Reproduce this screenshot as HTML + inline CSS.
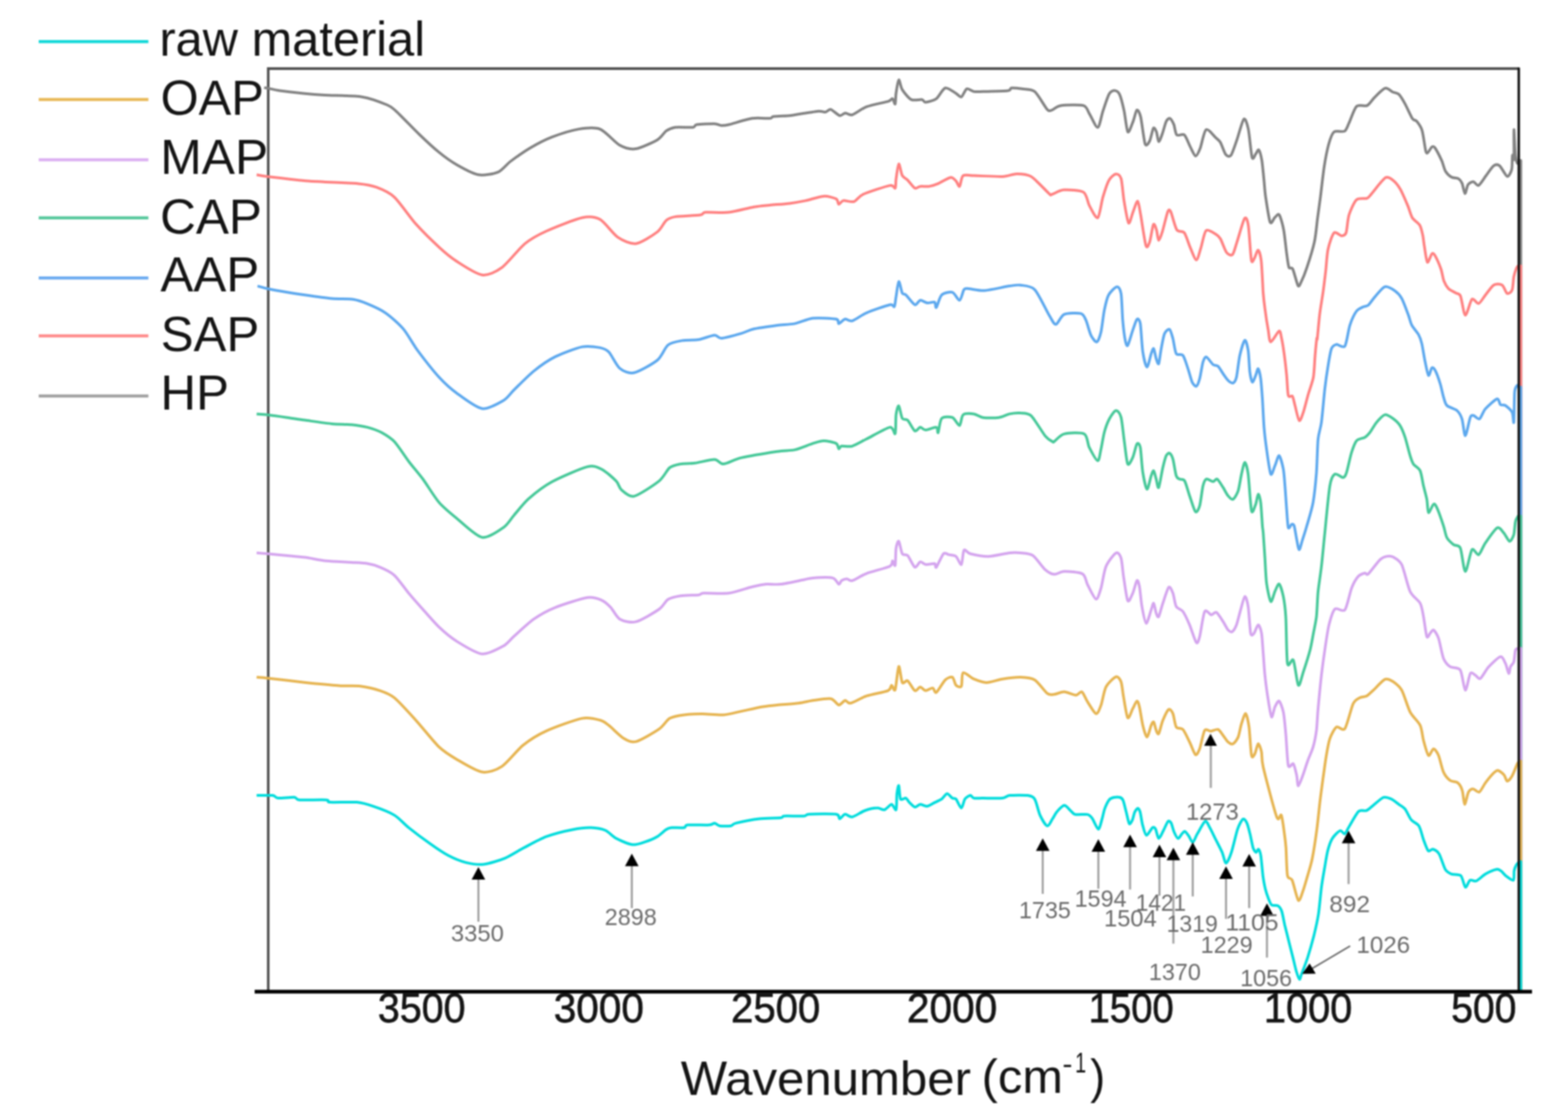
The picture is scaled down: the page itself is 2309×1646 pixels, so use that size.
<!DOCTYPE html>
<html><head><meta charset="utf-8"><title>FTIR spectra</title>
<style>html,body{margin:0;padding:0;background:#fff;} svg{display:block;filter:blur(0.8px);}</style>
</head><body>
<svg width="2309" height="1646" viewBox="0 0 2309 1646">
<rect width="2309" height="1646" fill="#fff"/>
<path d="M395 1460 V101 H2237" fill="none" stroke="#505050" stroke-width="3.8"/>
<path d="M389 129C389.4 129.1 389.3 128.9 392.4 129.5C395.5 130.1 404.9 132.4 412.1 133.5C419.3 134.5 437.6 136.5 446.4 137.4C455.2 138.3 466.4 139.3 478 140C489.6 140.7 521 140.7 533.3 142.7C545.6 144.6 563.5 151.7 570.2 154.5C576.8 157.3 577 158 583.3 163.7C589.7 169.5 609.2 189.9 617.6 198C626 206.1 639.2 218.4 646.6 224.3C653.9 230.3 665.2 238.4 672.9 242.8C680.6 247.2 696.4 255.8 704.5 257.3C712.6 258.7 727.2 255.9 733.5 253.3C739.8 250.7 745.6 242.2 751.9 237.5C758.2 232.8 772.8 222.5 780.9 217.7C789 213 803 205.6 812.5 201.9C822 198.3 842.5 191.7 852 190.1C861.5 188.5 875.5 186.9 883.6 190.1C891.7 193.2 905.6 209.9 912.6 213.8C919.6 217.7 928.9 220.1 936.3 219.1C943.7 218 961.9 209.4 967.9 205.9C973.9 202.4 977.6 195.2 981.1 192.7C984.6 190.3 989 188.2 994.2 187.5C999.5 186.8 1016.4 188 1020.6 187.5C1024.8 186.9 1021.6 184.2 1025.8 183.5C1030.1 182.8 1047.3 182 1052.2 182.2C1057.1 182.4 1059.9 184.6 1062.7 184.8C1065.5 185 1067.3 184.9 1073.3 183.5C1079.2 182.1 1099.4 175.5 1107.5 174.3C1115.6 173.1 1129.6 174.6 1133.8 174.3C1138 173.9 1135.2 172.2 1139.1 171.6C1143 171.1 1158.6 170.7 1162.8 170.3C1167 170 1165.1 169.9 1170.7 169C1176.3 168.1 1199 164.3 1204.9 163.7C1210.9 163.2 1213 165.4 1215.5 165.1C1217.9 164.7 1220.6 160.4 1223.4 161.1C1226.2 161.8 1233.7 169.6 1236.6 170.3C1239.4 171 1242 166.6 1244.5 166.4C1246.9 166.2 1250.8 170.2 1255 169C1259.2 167.8 1269 159.8 1276.1 157.2C1283.1 154.5 1302.6 150.8 1307.7 149.3C1312.8 147.7 1312.9 144.8 1314.3 145.3C1315.7 145.8 1317.5 154.3 1318.2 153.2C1318.9 152.2 1318.8 142.2 1319.5 137.4C1320.2 132.7 1322.2 118.4 1323.5 117.7C1324.7 117 1326.3 128.3 1328.7 132.1C1331.2 136 1338 144.7 1341.9 146.6C1345.8 148.6 1354.9 146.1 1357.7 146.6C1360.5 147.2 1360.2 150.8 1363 150.6C1365.8 150.4 1374.9 148.1 1378.8 145.3C1382.6 142.5 1388.1 130.6 1392 129.5C1395.8 128.5 1404.6 135.7 1407.8 137.4C1410.9 139.2 1413.6 143.6 1415.7 142.7C1417.8 141.8 1421.1 131.9 1423.6 130.8C1426 129.8 1430.9 134.2 1434.1 134.8C1437.3 135.3 1440.6 135 1447.3 134.8C1453.9 134.6 1478.5 134.2 1484.1 133.5C1489.8 132.8 1486.6 129.9 1489.4 129.5C1492.2 129.2 1500.6 130.1 1505.2 130.8C1509.8 131.5 1518.7 130.7 1523.6 134.8C1528.6 138.8 1538.7 157.5 1542.1 161.1C1545.4 164.8 1546.2 162.8 1548.9 162.1C1551.5 161.3 1556 156.3 1562.2 155.4C1568.4 154.5 1589.8 153.8 1595.4 155.4C1601 157 1601.5 163.3 1604.3 167.6C1607.1 171.9 1613.8 188.2 1616.5 187.6C1619.2 187 1622 169.7 1624.3 163.2C1626.5 156.7 1630.9 142.8 1633.1 138.8C1635.3 134.8 1638.8 133.2 1640.9 133.2C1643 133.2 1646.7 134.8 1648.6 138.8C1650.6 142.8 1653.7 155.8 1655.3 163.2C1656.9 170.6 1659.1 192.1 1660.8 194.2C1662.6 196.3 1666.8 183 1668.6 178.7C1670.4 174.4 1672.7 162.9 1674.1 162.1C1675.6 161.2 1678.1 165.4 1679.7 172C1681.3 178.7 1684.6 207.2 1686.3 212C1688.1 216.7 1691.4 210.6 1693 207.5C1694.6 204.4 1697.2 190.4 1698.5 188.7C1699.9 186.9 1701.9 191.6 1703 194.2C1704 196.9 1705.1 208.3 1706.3 208.6C1707.5 208.9 1710.4 200.4 1711.8 196.4C1713.3 192.4 1715.9 181.6 1717.4 178.7C1718.9 175.7 1721.4 173.7 1722.9 174.3C1724.4 174.8 1727.1 179.9 1728.5 183.1C1729.8 186.4 1730.8 196.6 1732.9 198.6C1735 200.7 1741.3 196.3 1744 198.6C1746.7 201 1750.6 212.2 1752.9 216.4C1755.1 220.5 1758.7 229.4 1760.6 229.7C1762.5 230 1765.2 223.8 1767.3 218.6C1769.3 213.4 1773 193 1776.1 190.9C1779.2 188.8 1787.7 200.6 1790.6 203.1C1793.4 205.6 1795.3 206.5 1797.2 209.7C1799.1 213 1802.9 225 1805 227.5C1807 230 1810.5 231.5 1812.7 228.6C1814.9 225.6 1819.1 212.4 1821.6 205.3C1824.1 198.2 1829.4 177.4 1831.6 175.4C1833.8 173.3 1836.6 182.2 1838.2 189.8C1839.9 197.3 1842.3 227 1843.8 231.9C1845.2 236.8 1848 227.8 1849.3 226.4C1850.6 224.9 1852.6 219.5 1853.7 220.8C1854.9 222.2 1857.1 230.1 1858.2 236.3C1859.2 242.5 1860.8 260.3 1861.5 267.4C1862.2 274.5 1862.5 281.6 1863.7 289.6C1864.9 297.5 1868.6 323.1 1870.4 327.3C1872.2 331.4 1875.3 322.1 1877 320.6C1878.8 319.1 1881.9 313.8 1883.7 316.2C1885.5 318.5 1888.9 330.7 1890.3 338.3C1891.8 346 1893.7 366.4 1894.8 373.8C1895.8 381.2 1896.9 390.8 1898.1 393.8C1899.3 396.7 1901.9 392.4 1903.6 396C1905.4 399.5 1909.8 417.7 1911.4 420.4C1913 423 1913.9 419.5 1915.7 415.9C1917.4 412.4 1921.9 401.8 1924.5 393.8C1927.2 385.8 1933.5 365.5 1935.6 356.1C1937.7 346.6 1938.9 331.7 1940 322.8C1941.2 313.9 1943.1 299.9 1944.5 289.6C1945.8 279.2 1948.4 255.6 1950 245.2C1951.6 234.9 1954.8 218.8 1956.7 212C1958.6 205.2 1961.3 196.7 1964.4 194.2C1967.5 191.7 1977 194.9 1980 193.1C1982.9 191.3 1984.2 185.8 1986.6 180.9C1989 176 1994.1 159.9 1997.7 156.5C2001.2 153.1 2009.7 157.2 2013.2 155.4C2016.8 153.6 2020.8 146.6 2024.3 143.2C2027.8 139.8 2036.3 130.9 2039.8 129.9C2043.4 128.9 2048.2 134.3 2050.9 135.5C2053.6 136.6 2057.4 136.6 2059.8 138.8C2062.1 141 2066 147.4 2068.6 152.1C2071.3 156.8 2077.4 170.7 2079.7 174.3C2082.1 177.8 2084.5 176.3 2086.4 178.7C2088.3 181.1 2092.4 186.1 2094.1 192C2095.9 197.9 2098.5 218.8 2099.7 223C2100.9 227.3 2101.8 225 2103 224.1C2104.2 223.3 2107.2 217.3 2108.6 216.4C2109.9 215.5 2111.1 214.8 2113 217.5C2114.9 220.2 2120.9 231.8 2123 236.3C2125 240.9 2126.6 248.6 2128.5 251.9C2130.4 255.1 2134.9 259.3 2137.4 260.7C2139.9 262.2 2145.3 261.8 2147.4 262.9C2149.4 264.1 2151.6 266.6 2152.9 269.6C2154.2 272.6 2156.2 284.8 2157.3 285.1C2158.5 285.4 2160.1 274.2 2161.8 271.8C2163.4 269.5 2167.5 267.2 2169.5 267.4C2171.6 267.5 2174.8 274.1 2177.3 272.9C2179.8 271.7 2185.4 262.4 2188.4 258.5C2191.3 254.7 2196.8 246 2199.5 244.1C2202.1 242.2 2205.7 242 2208.3 244.1C2211 246.2 2217.1 258.9 2219.4 259.6C2221.8 260.4 2225 253.8 2226.1 249.6C2227.1 245.5 2226.7 230.7 2227.2 228.6C2227.6 226.5 2229.1 239.2 2229.4 234.1C2229.7 229.1 2229.1 191.5 2229.4 190.9C2229.7 190.3 2230.9 223 2231.6 229.7C2232.4 236.3 2234 239.9 2234.9 240.8C2235.9 241.7 2238.4 236.9 2238.9 236.3 L2239.5 236.3 L2239.5 1460" fill="none" stroke="#828282" stroke-width="4.0" stroke-linejoin="round" stroke-linecap="butt"/>
<path d="M377.9 257.3C380.1 257.6 384 258.7 394.2 259.9C404.4 261.1 436.4 265.1 454.3 266.5C472.1 267.9 514.7 269.2 528 270.4C541.4 271.6 547.3 273.1 554.4 275.7C561.4 278.3 573 283 580.7 290.2C588.4 297.4 603.5 319.8 612.3 329.7C621.1 339.5 638.5 356.5 646.6 363.9C654.6 371.3 664.5 379.5 672.9 385C681.3 390.4 701 403.5 709.8 404.7C718.5 406 730.3 400.4 738.7 394.2C747.2 388.1 764.2 365.9 773 358.7C781.8 351.5 793.4 345.3 804.6 340.2C815.8 335.1 846.7 322.7 857.3 320.5C867.8 318.2 876.6 319.2 883.6 323.1C890.6 327 902.9 344.7 909.9 349.4C917 354.2 928.6 359.7 936.3 358.7C944 357.6 961.9 346.1 967.9 341.5C973.9 337 977.6 327.4 981.1 324.4C984.6 321.4 987.6 320.2 994.2 319.1C1000.9 318.1 1025.1 317.4 1031.1 316.5C1037.1 315.6 1033.4 313.1 1039 312.6C1044.6 312 1063.8 313.6 1073.3 312.6C1082.7 311.5 1102.1 306.1 1110.1 304.7C1118.2 303.3 1126.8 302.7 1133.8 302C1140.9 301.3 1155.8 300.3 1162.8 299.4C1169.8 298.5 1179.8 296.8 1186.5 295.4C1193.2 294 1206.9 289.2 1212.9 288.9C1218.8 288.5 1228.3 291.2 1231.3 292.8C1234.3 294.4 1233.8 300.4 1235.2 300.7C1236.6 301.1 1238.8 296 1241.8 295.4C1244.8 294.9 1253.8 298 1257.6 296.8C1261.5 295.5 1263.8 289.4 1270.8 286.2C1277.8 283.1 1304 274.3 1310.3 273.1C1316.6 271.8 1317 278.2 1318.2 277C1319.4 275.8 1318.8 268.6 1319.5 263.8C1320.2 259.1 1322.2 242.1 1323.5 241.4C1324.7 240.7 1327 255.4 1328.7 258.6C1330.5 261.7 1334.2 262.7 1336.6 265.2C1339.1 267.6 1344.7 275.8 1347.2 277C1349.6 278.2 1352.3 274.7 1355.1 274.4C1357.9 274 1364.7 274.9 1368.2 274.4C1371.8 273.8 1377.2 272.2 1381.4 270.4C1385.6 268.7 1396.3 261.7 1399.9 261.2C1403.4 260.7 1406 264.7 1407.8 266.5C1409.5 268.2 1411.6 275.4 1413 274.4C1414.4 273.3 1415.5 260.7 1418.3 258.6C1421.1 256.5 1426.4 258.4 1434.1 258.6C1441.8 258.7 1467.8 260.2 1476.2 259.9C1484.7 259.5 1491.7 255.9 1497.3 255.9C1502.9 255.9 1512.1 256 1518.4 259.9C1524.7 263.7 1540.7 281.4 1544.7 284.9C1548.8 288.4 1546 286.9 1548.9 286.2C1551.8 285.5 1560.4 280 1566.6 279.6C1572.8 279.1 1590.4 279.8 1595.4 282.9C1600.5 286 1601.5 297.8 1604.3 302.9C1607.1 307.9 1613.8 322.4 1616.5 320.6C1619.2 318.8 1622 296.9 1624.3 289.6C1626.5 282.2 1630.6 269.6 1633.1 265.2C1635.6 260.7 1640.7 256.6 1643.1 256.3C1645.5 256 1649.2 257.6 1650.9 262.9C1652.5 268.3 1653.8 287.5 1655.3 296.2C1656.8 304.9 1660.2 326.3 1662 328.4C1663.7 330.4 1666.8 316 1668.6 311.7C1670.4 307.4 1673.8 295.6 1675.3 296.2C1676.7 296.8 1678.1 307.4 1679.7 316.2C1681.3 324.9 1685.7 356.3 1687.5 361.6C1689.2 366.9 1691.5 360.2 1693 356.1C1694.5 351.9 1697.2 332.9 1698.5 330.6C1699.9 328.2 1701.9 335.2 1703 338.3C1704 341.4 1705.1 353.6 1706.3 353.9C1707.5 354.2 1710.1 346.2 1711.8 340.6C1713.6 334.9 1718 315.6 1719.6 311.7C1721.2 307.9 1722.3 308.2 1724 311.7C1725.8 315.3 1730.2 334.2 1732.9 338.3C1735.6 342.5 1741.3 339.2 1744 342.8C1746.7 346.3 1750.5 359.6 1752.9 364.9C1755.2 370.3 1759.7 382.7 1761.7 382.7C1763.8 382.7 1766.5 370.7 1768.4 364.9C1770.3 359.2 1773.2 342.1 1776.1 339.4C1779.1 336.8 1787.7 343.4 1790.6 345C1793.4 346.6 1795.1 348.1 1797.2 351.6C1799.3 355.2 1803.7 368.5 1806.1 371.6C1808.4 374.7 1812.9 377 1814.9 374.9C1817 372.9 1819.2 363.2 1821.6 356.1C1824 349 1830.5 325 1832.7 321.7C1834.9 318.5 1836.9 323.6 1838.2 331.7C1839.6 339.8 1841.5 376.2 1842.7 382.7C1843.8 389.2 1845.8 382.4 1847.1 380.5C1848.4 378.5 1851.3 368 1852.6 368.3C1854 368.6 1856.2 376.3 1857.1 382.7C1858 389 1858.9 409.4 1859.3 415.9C1859.7 422.5 1859.7 426.9 1860.2 432C1860.6 437.1 1861.7 447 1862.7 454.2C1863.6 461.4 1866.4 479.6 1867.6 486.2C1868.7 492.8 1869.1 503.3 1871.3 503.4C1873.4 503.6 1881.5 488.1 1883.6 487.4C1885.7 486.8 1886.3 494.1 1887.3 498.5C1888.3 503 1890 513.5 1891 520.7C1892 527.9 1893.9 544.5 1894.7 552.7C1895.5 560.9 1896 578.2 1897.1 582.3C1898.3 586.4 1902 581.5 1903.3 583.5C1904.6 585.5 1905.7 592.3 1907 597C1908.3 601.8 1911.5 617.9 1913.2 619.2C1914.8 620.5 1917.5 612.2 1919.3 606.9C1921.1 601.6 1924.7 586.7 1926.7 579.8C1928.7 572.9 1932.8 562.7 1934.1 555.2C1935.4 547.6 1935.9 530.7 1936.6 523.2C1937.2 515.6 1938.6 501.8 1939 498.5C1939.4 495.2 1939.2 503.4 1939.8 498.5C1940.4 493.6 1942.3 470.8 1943.5 461.6C1944.6 452.4 1947.3 437.8 1948.4 429.6C1949.6 421.3 1951.1 408.3 1952.1 400C1953.1 391.7 1953.9 374.8 1955.6 367.2C1957.2 359.5 1961.8 345.4 1964.4 342.8C1967.1 340.1 1973.2 347.2 1975.5 347.2C1977.9 347.2 1980.7 346.9 1982.2 342.8C1983.6 338.6 1984.5 322.7 1986.6 316.2C1988.7 309.7 1994.1 297.2 1997.7 294C2001.2 290.7 2010.3 293 2013.2 291.8C2016.2 290.6 2016.3 289.1 2019.9 285.1C2023.4 281.1 2035.7 264.5 2039.8 261.8C2044 259.2 2048 262.9 2050.9 265.2C2053.9 267.4 2059 273.4 2062 278.5C2064.9 283.5 2070.7 297.2 2073.1 302.9C2075.4 308.5 2077.4 316.8 2079.7 320.6C2082.1 324.4 2088.7 328.1 2090.8 331.7C2092.9 335.2 2094.4 343.1 2095.3 347.2C2096.1 351.3 2096.6 357.6 2097.5 362.7C2098.4 367.9 2100.4 384.5 2101.9 386C2103.4 387.5 2107.1 375.1 2108.6 373.8C2110 372.5 2111.2 373.1 2113 376C2114.8 379 2120.1 391 2121.9 396C2123.6 401 2124.8 409.9 2126.3 413.7C2127.8 417.6 2130.6 422.4 2132.9 424.8C2135.3 427.2 2141.7 430 2144 431.5C2146.4 432.9 2148.9 431.6 2150.7 435.9C2152.5 440.2 2155.5 463.4 2157.8 464C2160 464.7 2165 442.9 2167.6 440.6C2170.2 438.3 2174.8 447.6 2177.5 446.8C2180.1 446 2184.4 438.1 2187.3 434.5C2190.3 430.9 2196.4 421.7 2199.6 419.7C2202.9 417.7 2209.3 418.1 2212 419.7C2214.6 421.3 2217.4 431 2219.3 432C2221.3 433 2225.4 430.4 2226.7 427.1C2228 423.8 2228.4 411.7 2229.2 407.4C2230 403.1 2232.1 397.2 2232.9 395.1C2233.7 392.9 2235 391.9 2235.4 391.4 L2239.5 391.4 L2239.5 1460" fill="none" stroke="#ff8080" stroke-width="4.0" stroke-linejoin="round" stroke-linecap="butt"/>
<path d="M379.2 421.1C381.2 421.6 388.4 423.8 394.2 425C400 426.3 415.4 429.1 422.7 430.3C430 431.5 440.2 433 449 434.2C457.8 435.5 479 438.6 488.5 439.5C498 440.4 513.1 439.8 520.1 440.8C527.2 441.9 534.9 444.8 541.2 447.4C547.5 450 560.5 455.7 567.5 460.6C574.6 465.5 587.6 476.9 593.9 484.3C600.2 491.7 607.9 506.4 614.9 515.9C622 525.4 638.8 547 646.6 555.4C654.3 563.8 664.5 573 672.9 579.1C681.3 585.2 700.6 600.1 709.8 601.5C718.9 602.9 735.1 593.3 741.4 589.6C747.7 586 751.2 579.6 757.2 573.8C763.1 568 778.1 552.7 786.2 546.2C794.2 539.7 808.3 529.8 817.8 525.1C827.2 520.4 848.5 512.4 857.3 510.6C866 508.9 878.3 510.9 883.6 511.9C888.9 513 892.9 514.5 896.8 518.5C900.6 522.6 907.7 538.2 912.6 542.2C917.5 546.3 926.3 550.4 933.6 548.8C941 547.2 961.2 535.8 967.9 530.4C974.6 524.9 978.8 511.9 983.7 508C988.6 504.1 998.8 502.5 1004.8 501.4C1010.7 500.4 1022.2 501.1 1028.5 500.1C1034.8 499 1047.6 493.8 1052.2 493.5C1056.8 493.2 1057.5 498.3 1062.7 498C1068 497.6 1085.4 492.7 1091.7 490.9C1098 489 1103.1 485.9 1110.1 484.3C1117.2 482.7 1136.3 480.1 1144.4 479C1152.4 478 1163.7 477.8 1170.7 476.4C1177.7 475 1189 469.4 1197 468.5C1205.1 467.6 1226.2 468.7 1231.3 469.8C1236.4 470.9 1233.5 476.4 1235.2 476.4C1237 476.4 1241.8 470.3 1244.5 469.8C1247.1 469.3 1250.8 473.7 1255 472.4C1259.2 471.2 1268.7 463.7 1276.1 460.6C1283.4 457.4 1304.9 450 1310.3 448.7C1315.7 447.5 1315.7 452.9 1316.9 451.4C1318.1 449.8 1318.6 441.8 1319.5 436.9C1320.4 432 1322.2 415.2 1323.5 414.5C1324.7 413.8 1327.3 429 1328.7 431.6C1330.1 434.2 1331.6 432 1334 434.2C1336.5 436.5 1344.4 447.7 1347.2 448.7C1350 449.8 1352.6 442.5 1355.1 442.1C1357.5 441.8 1362.8 445.7 1365.6 446.1C1368.4 446.4 1374.4 443.9 1376.2 444.8C1377.9 445.7 1377.4 454.1 1378.8 452.7C1380.2 451.3 1383.5 437.2 1386.7 434.2C1389.8 431.3 1399 429.2 1402.5 430.3C1406 431.3 1410.7 442.7 1413 442.1C1415.3 441.6 1417.9 428.6 1419.6 426.3C1421.4 424.1 1422.2 424.8 1426.2 425C1430.2 425.2 1441.8 428.2 1449.9 427.7C1458 427.1 1479.7 422.1 1486.8 421.1C1493.8 420 1497.7 419.1 1502.6 419.8C1507.5 420.5 1518 420.4 1523.6 426.3C1529.3 432.2 1540.8 457.2 1544.9 464C1549.1 470.9 1551.8 477.8 1554.8 477.6C1557.7 477.4 1562.2 464.9 1567.1 462.8C1572 460.7 1587.5 460.4 1591.7 461.6C1596 462.7 1597.1 467.2 1599.1 471.4C1601.1 475.7 1604.4 489.3 1606.5 493.6C1608.6 497.9 1613.2 504.1 1615.1 503.4C1617.1 502.8 1619.8 494.9 1621.3 488.7C1622.8 482.4 1624.7 463.9 1626.2 456.7C1627.7 449.4 1629.9 439.1 1632.4 434.5C1634.8 429.9 1642.2 422.5 1644.7 422.2C1647.1 421.8 1649.7 425.5 1650.8 432C1652 438.6 1652.5 462.2 1653.3 471.4C1654.1 480.6 1656 496.1 1657 501C1658 505.9 1659.2 510.3 1660.7 508.4C1662.2 506.4 1666.3 491.3 1668.1 486.2C1669.9 481.1 1672.8 471.5 1674.2 470.2C1675.7 468.9 1678 470 1679.2 476.4C1680.3 482.8 1681.5 509.7 1682.9 518.2C1684.2 526.8 1687.4 540.1 1689 540.4C1690.7 540.7 1693.9 524.3 1695.2 520.7C1696.5 517.1 1697.9 512.3 1698.9 513.3C1699.9 514.3 1701.6 525.1 1702.6 528.1C1703.5 531 1705.3 537.4 1706.3 535.5C1707.2 533.5 1708.8 519.2 1710 513.3C1711.1 507.4 1713.2 494.9 1714.9 491.1C1716.5 487.4 1720.6 484 1722.3 485C1723.9 486 1725.9 493.8 1727.2 498.5C1728.5 503.3 1730.1 517.4 1732.1 520.7C1734.1 524 1739.7 520.2 1742 523.2C1744.3 526.1 1747.6 537.6 1749.4 542.9C1751.2 548.1 1753.9 559.1 1755.5 562.6C1757.2 566 1760.2 569.4 1761.7 568.7C1763.2 568.1 1765.3 562.4 1766.6 557.6C1767.9 552.9 1770.2 537.3 1771.5 533C1772.8 528.7 1774.5 525.1 1776.5 525.6C1778.4 526.1 1784 534.9 1786.3 536.7C1788.6 538.5 1791.7 537.4 1793.7 539.2C1795.7 541 1799.1 547.5 1801.1 550.2C1803.1 553 1806.5 558.3 1808.5 560.1C1810.4 561.9 1814.2 564.4 1815.9 563.8C1817.5 563.1 1819.5 560.6 1820.8 555.2C1822.1 549.8 1824.1 530.4 1825.7 523.2C1827.4 515.9 1831.5 502 1833.1 501C1834.7 500 1837 509.5 1838 515.8C1839 522 1839.7 541.5 1840.5 547.8C1841.3 554 1843 561.9 1844.2 562.6C1845.3 563.2 1848 555.3 1849.1 552.7C1850.3 550.1 1851.8 542.2 1852.8 542.9C1853.8 543.5 1855.7 551.7 1856.5 557.6C1857.3 563.5 1858.3 577.7 1859 587.2C1859.6 596.7 1860.6 619.2 1861.4 629.1C1862.2 638.9 1863.8 651.9 1865.1 661.1C1866.4 670.3 1869.6 694.7 1871.3 698C1872.9 701.3 1875.8 689.3 1877.4 685.7C1879.1 682.1 1882 670.3 1883.6 670.9C1885.2 671.6 1888.6 684.7 1889.8 690.6C1890.9 696.6 1891.6 707.4 1892.2 715.3C1892.9 723.2 1894 741.5 1894.7 749.8C1895.3 758 1896.2 773.9 1897.1 776.8C1898.1 779.8 1900.9 772.2 1902.1 771.9C1903.2 771.6 1904.8 771.4 1905.8 774.4C1906.7 777.3 1908.5 789.4 1909.5 794.1C1910.4 798.7 1912 809.2 1913.2 809.3C1914.3 809.3 1916.6 799.1 1918.1 794.5C1919.6 789.9 1922.2 782.1 1924.2 774.8C1926.3 767.5 1931.7 750.5 1933.6 739.9C1935.5 729.3 1937.6 708 1938.6 695.6C1939.5 683.1 1940 656.2 1941 646.3C1942 636.5 1944.6 631.5 1945.9 621.7C1947.3 611.8 1949.6 583.6 1950.9 572.4C1952.2 561.2 1954.5 545.8 1955.8 537.9C1957.1 530 1959.1 517.4 1960.7 513.3C1962.4 509.2 1965.5 507.6 1968.1 507.1C1970.7 506.7 1977.8 513.4 1980.4 509.6C1983.1 505.8 1985.5 485.7 1987.8 478.8C1990.1 471.9 1995 461.5 1997.7 457.9C2000.3 454.3 2005.2 452.9 2007.5 451.7C2009.8 450.6 2012.6 451.2 2014.9 449.3C2017.2 447.3 2021.5 440.6 2024.8 436.9C2028 433.3 2035.6 423.3 2039.5 422.2C2043.5 421 2051 426 2054.3 428.3C2057.6 430.6 2061.5 434.6 2064.2 439.4C2066.8 444.2 2072.1 458.8 2074 464C2076 469.3 2077 475 2079 478.8C2080.9 482.6 2086.8 488.8 2088.8 492.4C2090.8 496 2092.4 500.5 2093.7 505.9C2095 511.3 2097.3 526.8 2098.7 533C2100 539.2 2102.3 551.6 2103.6 552.7C2104.9 553.9 2107.2 542.6 2108.5 541.6C2109.8 540.6 2111.8 542.2 2113.4 545.3C2115.1 548.4 2119.2 559.8 2120.8 565C2122.5 570.3 2124.4 580.5 2125.7 584.7C2127.1 589 2128 594.4 2130.7 597C2133.3 599.7 2142.5 601.8 2145.5 604.4C2148.4 607.1 2151.2 611.8 2152.8 616.7C2154.5 621.7 2156.1 641.7 2157.8 641.4C2159.4 641.1 2163.5 618.2 2165.2 614.3C2166.8 610.3 2168.3 611.5 2170.1 611.8C2171.9 612.2 2176.4 618.1 2178.7 616.7C2181 615.4 2183.9 605.9 2187.3 602C2190.8 598 2201.6 588 2204.6 587.2C2207.5 586.4 2207.9 594.5 2209.5 595.8C2211.1 597.1 2214.6 595.6 2216.9 597C2219.2 598.5 2225.1 603.6 2226.7 606.9C2228.4 610.2 2228.7 625.6 2229.2 621.7C2229.7 617.7 2229.8 584.6 2230.4 577.3C2231.1 570.1 2233.3 568.5 2234.1 567.5C2234.9 566.5 2236.3 569.6 2236.6 570 L2239.5 570 L2239.5 1460" fill="none" stroke="#5ca8ee" stroke-width="4.0" stroke-linejoin="round" stroke-linecap="butt"/>
<path d="M377.9 609.4C380.1 609.6 388.3 610 394.2 610.7C400.2 611.4 415.4 613.6 422.7 614.7C430 615.7 440.2 617.4 449 618.6C457.8 619.8 479.4 623 488.5 623.9C497.7 624.8 510.5 624.5 517.5 625.2C524.5 625.9 535.2 627.6 541.2 629.1C547.2 630.7 557 634.2 562.3 637C567.5 639.9 575.4 644.6 580.7 650.2C586 655.8 596.2 671.8 601.8 679.2C607.4 686.6 616.9 697.5 622.9 705.5C628.8 713.6 639.9 732 646.6 739.8C653.2 747.5 664.5 756.6 672.9 763.5C681.3 770.3 700.6 789.4 709.8 791.1C718.9 792.9 735.1 781 741.4 776.6C747.7 772.3 752.3 763.8 757.2 758.2C762.1 752.6 770.9 741 778.2 734.5C785.6 728 800.9 715.8 812.5 709.5C824.1 703.2 855.3 689.5 865.2 687.1C875 684.6 880.6 688.2 886.2 691C891.9 693.9 903.4 704.1 907.3 708.2C911.2 712.2 911.7 718.3 915.2 721.3C918.7 724.3 926.3 732.3 933.6 730.6C941 728.8 963.5 713.8 970.5 708.2C977.6 702.5 982.1 691.7 986.3 688.4C990.6 685.1 997.2 684 1002.1 683.1C1007.1 682.3 1016.5 682.7 1023.2 681.8C1029.9 680.9 1046.6 676.4 1052.2 676.6C1057.8 676.7 1060.1 683.5 1065.4 683.1C1070.6 682.8 1081.2 676.4 1091.7 673.9C1102.2 671.5 1133.8 666.3 1144.4 664.7C1154.9 663.1 1163.7 663.7 1170.7 662.1C1177.7 660.5 1191.4 654.6 1197 652.9C1202.7 651.1 1208.3 648.9 1212.9 648.9C1217.4 648.9 1228.3 651.3 1231.3 652.9C1234.3 654.4 1234.2 660.2 1235.2 660.8C1236.3 661.3 1236.6 657.3 1239.2 656.8C1241.8 656.3 1250.1 658.2 1255 656.8C1259.9 655.4 1268.7 650 1276.1 646.3C1283.4 642.6 1304.7 630.2 1310.3 629.1C1315.9 628.1 1317 640.8 1318.2 638.4C1319.4 635.9 1318.8 616.2 1319.5 610.7C1320.2 605.3 1322.2 596.8 1323.5 597.5C1324.7 598.2 1327 613.2 1328.7 616C1330.5 618.8 1334.2 616.2 1336.6 618.6C1339.1 621.1 1344.7 633 1347.2 634.4C1349.6 635.8 1353 629.3 1355.1 629.1C1357.2 629 1359.8 633.1 1363 633.1C1366.1 633.1 1376.3 628.6 1378.8 629.1C1381.2 629.7 1380.4 638.8 1381.4 637C1382.5 635.3 1383.9 619 1386.7 616C1389.5 613 1399 613.3 1402.5 614.7C1406 616.1 1410.9 627 1413 626.5C1415.1 626 1415.5 613 1418.3 610.7C1421.1 608.4 1430.2 608.9 1434.1 609.4C1438 609.9 1442.3 614 1447.3 614.7C1452.2 615.4 1465.7 615.4 1471 614.7C1476.2 614 1482.6 610.3 1486.8 609.4C1491 608.5 1498.4 607.7 1502.6 608.1C1506.8 608.4 1513.5 607.5 1518.4 612C1523.3 616.6 1535.2 637.2 1539.5 642.3C1543.7 647.4 1548.3 649.2 1550 650.2C1551.7 651.2 1550 651.5 1552.3 650C1554.6 648.5 1561.2 640.4 1567.1 638.9C1573 637.4 1591.7 636.3 1596.7 638.9C1601.6 641.5 1601.4 653.4 1604 658.6C1606.7 663.9 1614.1 678 1616.4 678.3C1618.7 678.7 1620 666.7 1621.3 661.1C1622.6 655.5 1624.6 642.4 1626.2 636.5C1627.8 630.5 1631.3 621 1633.6 616.7C1635.9 612.5 1641.1 604.8 1643.4 604.4C1645.7 604.1 1649.2 608 1650.8 614.3C1652.5 620.5 1654.4 642 1655.8 651.2C1657.1 660.4 1659 680.3 1660.7 683.3C1662.3 686.2 1666.3 677.3 1668.1 673.4C1669.9 669.5 1672.8 655.7 1674.2 653.7C1675.7 651.7 1678 653 1679.2 658.6C1680.3 664.2 1681.5 687.4 1682.9 695.6C1684.2 703.8 1687.4 719.5 1689 720.2C1690.7 720.9 1693.9 704.1 1695.2 700.5C1696.5 696.9 1697.9 692.4 1698.9 693.1C1699.9 693.8 1701.6 702.1 1702.6 705.4C1703.5 708.7 1704.9 720 1706.3 717.7C1707.6 715.4 1710.9 694.4 1712.4 688.2C1713.9 681.9 1716 673.7 1717.3 670.9C1718.7 668.1 1721 666.6 1722.3 667.2C1723.6 667.9 1725.9 671.4 1727.2 675.9C1728.5 680.3 1730.8 696.6 1732.1 700.5C1733.4 704.4 1735.4 704.4 1737 705.4C1738.7 706.4 1742.5 704.6 1744.4 707.9C1746.4 711.2 1749.7 724 1751.8 730C1754 736.1 1758.5 751.5 1760.4 753.4C1762.4 755.4 1765.1 749.9 1766.6 744.8C1768.1 739.7 1770.2 720.5 1771.5 715.3C1772.8 710 1774.5 706.2 1776.5 705.4C1778.4 704.6 1784.2 709.1 1786.3 709.1C1788.4 709.1 1790.5 704.3 1792.5 705.4C1794.4 706.6 1798.9 714.4 1801.1 717.7C1803.2 721 1806.5 727.8 1808.5 730C1810.4 732.3 1813.9 736 1815.9 735C1817.8 734 1821.6 727.6 1823.3 722.7C1824.9 717.7 1826.9 703.6 1828.2 698C1829.5 692.4 1831.8 680.8 1833.1 680.8C1834.4 680.8 1836.7 688.5 1838 698C1839.3 707.6 1841.5 746.3 1843 752.2C1844.4 758.1 1847.8 745.6 1849.1 742.4C1850.4 739.1 1851.8 727.9 1852.8 727.6C1853.8 727.3 1855.7 733.7 1856.5 739.9C1857.3 746.1 1858.5 768.4 1859 774.4C1859.5 780.3 1859.7 778.3 1860.2 784.6C1860.7 790.9 1862 811.7 1862.7 821.6C1863.3 831.4 1864 850 1865.1 858.5C1866.3 867.1 1869.6 884 1871.3 885.6C1872.9 887.3 1875.8 874.3 1877.4 870.8C1879.1 867.4 1882 858.8 1883.6 859.8C1885.2 860.7 1888.4 871.8 1889.8 878.2C1891.1 884.6 1892.6 894.6 1893.4 907.8C1894.3 920.9 1894.4 968.2 1895.9 976.7C1897.4 985.3 1902.4 967.6 1904.5 971.8C1906.7 976.1 1910 1006.5 1911.9 1008.8C1913.9 1011.1 1917 996 1919.3 989.1C1921.6 982.2 1927.2 964.6 1929.2 957C1931.1 949.5 1932.8 939 1934.1 932.4C1935.3 925.8 1937.6 916 1938.6 907.8C1939.5 899.6 1940 880.7 1941 870.8C1942 861 1944.6 845.4 1945.9 833.9C1947.3 822.4 1949.2 800.4 1950.9 784.6C1952.5 768.8 1956.3 726.8 1958.3 715.3C1960.2 703.7 1963 699.7 1965.7 698C1968.3 696.4 1975.7 703.3 1978 703C1980.3 702.6 1981.2 700.5 1982.9 695.6C1984.5 690.6 1988.3 672.2 1990.3 666C1992.3 659.8 1995 651.7 1997.7 648.8C2000.3 645.8 2007.4 645.5 2010 643.8C2012.6 642.2 2015.1 639.4 2017.4 636.5C2019.7 633.5 2024.3 625.1 2027.2 621.7C2030.2 618.2 2036.3 611.2 2039.5 610.6C2042.8 609.9 2048.9 614.6 2051.9 616.7C2054.8 618.9 2059.4 623 2061.7 626.6C2064 630.2 2067.1 637.9 2069.1 643.8C2071.1 649.8 2074.8 665.7 2076.5 670.9C2078.1 676.2 2079.4 680.3 2081.4 683.3C2083.4 686.2 2089.3 688.8 2091.3 693.1C2093.2 697.4 2094.9 709.7 2096.2 715.3C2097.5 720.9 2100.1 729.7 2101.1 735C2102.1 740.2 2102.3 753.7 2103.6 754.7C2104.9 755.7 2109.3 743.3 2111 742.4C2112.6 741.4 2113.9 743 2115.9 747.3C2117.9 751.6 2123.8 768.5 2125.7 774.4C2127.7 780.3 2128.7 788 2130.7 791.6C2132.6 795.3 2137.9 799.8 2140.5 801.9C2143.2 803.9 2148.1 801.5 2150.4 806.8C2152.7 812.1 2155.5 841 2157.8 841.3C2160.1 841.6 2165 812.5 2167.6 809.3C2170.2 806 2174.8 818 2177.5 816.7C2180.1 815.3 2183.7 804.7 2187.3 799.4C2190.9 794.2 2201 779.2 2204.6 777.2C2208.2 775.3 2212 782 2214.4 784.6C2216.9 787.3 2221.1 796.6 2223 796.9C2225 797.3 2228 791 2229.2 787.1C2230.3 783.2 2230.8 771 2231.7 767.4C2232.5 763.8 2234.9 761 2235.4 760 L2239.5 760 L2239.5 1460" fill="none" stroke="#45c898" stroke-width="4.0" stroke-linejoin="round" stroke-linecap="butt"/>
<path d="M377.9 814C380.1 814.2 388.3 814.8 394.2 815.3C400.2 815.8 415.4 817.2 422.7 817.9C430 818.6 441.3 819.5 449 820.6C456.7 821.6 471.5 824.9 480.6 825.8C489.8 826.8 509.4 827.4 517.5 828C525.6 828.5 535.6 828.8 541.2 829.8C546.8 830.7 554.4 832.8 559.6 835.1C564.9 837.3 575.1 841.8 580.7 846.9C586.3 852 596.5 866.9 601.8 873.3C607 879.6 614.2 887.7 620.2 894.3C626.2 901 639.5 916.6 646.6 923.3C653.6 930 664.5 939.1 672.9 944.4C681.3 949.6 700.6 961.9 709.8 962.8C718.9 963.7 735.1 954.5 741.4 951C747.7 947.4 751.2 941.7 757.2 936.5C763.1 931.2 778.1 917.1 786.2 911.4C794.2 905.8 807.2 898.5 817.8 894.3C828.3 890.1 856 881.2 865.2 879.8C874.3 878.4 881.7 881.9 886.2 883.8C890.8 885.7 895.9 890.6 899.4 894.3C902.9 898 907.7 908.6 912.6 911.4C917.5 914.3 928.6 917.3 936.3 915.4C944 913.5 964.2 901.4 970.5 897C976.9 892.6 979.5 885.1 983.7 882.5C987.9 879.8 996.2 878.1 1002.1 877.2C1008.1 876.3 1023.9 876.4 1028.5 875.9C1033 875.4 1030.4 873.6 1036.4 873.3C1042.4 872.9 1063.8 874.5 1073.3 873.3C1082.7 872 1100.1 865.8 1107.5 864C1114.9 862.3 1122.9 860.6 1128.6 860.1C1134.2 859.6 1142.3 861 1149.6 860.1C1157 859.2 1177.6 854.7 1183.9 853.5C1190.2 852.3 1191.4 851.2 1197 850.9C1202.7 850.5 1220.9 849.6 1226 850.9C1231.1 852.1 1233.5 859.6 1235.2 860.1C1237 860.6 1237.6 855.9 1239.2 854.8C1240.8 853.8 1245 852.2 1247.1 852.2C1249.2 852.2 1251.1 855.9 1255 854.8C1258.9 853.8 1268.7 847.1 1276.1 844.3C1283.4 841.5 1305.2 836.2 1310.3 833.7C1315.4 831.3 1313.2 826 1314.3 825.8C1315.3 825.7 1317.5 834.9 1318.2 832.4C1318.9 830 1318.8 812.2 1319.5 807.4C1320.2 802.7 1322.2 795.8 1323.5 796.9C1324.7 797.9 1327 812.5 1328.7 815.3C1330.5 818.1 1334.2 815.3 1336.6 817.9C1339.1 820.6 1344.7 833.8 1347.2 835.1C1349.6 836.3 1353 827.7 1355.1 827.2C1357.2 826.6 1360.2 830.8 1363 831.1C1365.8 831.5 1374 829.3 1376.2 829.8C1378.3 830.3 1377 837 1378.8 835.1C1380.5 833.1 1386.9 817.8 1389.3 815.3C1391.8 812.9 1394.8 816.1 1397.2 816.6C1399.7 817.2 1405.3 817.3 1407.8 819.3C1410.2 821.2 1414.1 832.3 1415.7 831.1C1417.2 829.9 1417.9 812.2 1419.6 810C1421.4 807.9 1424.1 814.1 1428.8 815.3C1433.6 816.5 1447.4 819.4 1455.2 819.3C1462.9 819.1 1480.5 814.7 1486.8 814C1493.1 813.3 1498 813.5 1502.6 814C1507.1 814.5 1516.1 814.6 1521 817.9C1525.9 821.3 1535.2 835.3 1539.5 839C1543.7 842.7 1548.9 845.3 1552.6 845.6C1556.3 845.9 1561.6 841.4 1567.1 841.3C1572.6 841.2 1589.6 842.3 1594.2 845C1598.8 847.6 1598.9 856.1 1601.6 861C1604.2 865.9 1611.3 881.3 1613.9 881.9C1616.5 882.6 1619.3 872.3 1621.3 865.9C1623.3 859.5 1625.7 840.8 1628.7 833.9C1631.6 827 1640.5 815.8 1643.4 814.2C1646.4 812.5 1649.4 817 1650.8 821.6C1652.3 826.2 1653.2 840.3 1654.5 848.7C1655.8 857 1658.9 881.1 1660.7 884.4C1662.5 887.7 1666.3 877.2 1668.1 873.3C1669.9 869.4 1672.9 856.1 1674.2 854.8C1675.6 853.5 1676.9 858.4 1677.9 863.4C1678.9 868.5 1680.3 885.8 1681.6 893C1682.9 900.2 1686 917 1687.8 917.6C1689.6 918.3 1693.7 901.9 1695.2 897.9C1696.7 894 1697.9 887.4 1698.9 888.1C1699.9 888.7 1701.6 900.2 1702.6 902.9C1703.5 905.5 1704.9 909.8 1706.3 907.8C1707.6 905.8 1710.4 893.8 1712.4 888.1C1714.4 882.3 1719.1 866.7 1721 864.7C1723 862.7 1725.7 869.5 1727.2 873.3C1728.7 877.1 1730.1 889.4 1732.1 893C1734.1 896.6 1739.3 896.8 1742 900.4C1744.6 904 1749.2 914 1751.8 920.1C1754.4 926.2 1759.7 943.7 1761.7 946C1763.6 948.3 1765 943.4 1766.6 937.3C1768.2 931.3 1771.7 904.7 1774 900.4C1776.3 896.1 1781.5 905.2 1783.8 905.3C1786.1 905.5 1788.9 900.3 1791.2 901.6C1793.5 902.9 1798.8 911.7 1801.1 915.2C1803.4 918.6 1806.7 925.5 1808.5 927.5C1810.3 929.5 1813 930.9 1814.6 930C1816.3 929 1819.1 924.4 1820.8 920.1C1822.4 915.8 1825.3 903.5 1826.9 897.9C1828.6 892.3 1831.6 878.9 1833.1 878.2C1834.6 877.6 1836.9 885.8 1838 893C1839.2 900.2 1840.6 927.2 1841.7 932.4C1842.9 937.7 1845.2 934.1 1846.7 932.4C1848.1 930.8 1851.3 920.1 1852.8 920.1C1854.3 920.1 1856.7 926.8 1857.7 932.4C1858.7 938 1859.5 953.8 1860.2 962C1860.9 970.2 1861.7 984.8 1862.7 994C1863.6 1003.2 1866.3 1022.7 1867.6 1030.9C1868.9 1039.1 1871.2 1054.3 1872.5 1055.6C1873.8 1056.9 1876 1043.9 1877.4 1040.8C1878.9 1037.7 1882 1031.2 1883.6 1032.2C1885.2 1033.2 1888.4 1041.8 1889.8 1048.2C1891.1 1054.6 1892.5 1069.7 1893.4 1080.2C1894.4 1090.7 1895.7 1121.1 1897.1 1127C1898.6 1132.9 1902.9 1122.6 1904.5 1124.5C1906.2 1126.5 1908.5 1137.5 1909.5 1141.8C1910.4 1146.1 1910.7 1157.1 1911.9 1156.9C1913.1 1156.8 1916.9 1145.9 1918.7 1141C1920.5 1136.1 1923.6 1126 1925.6 1120.5C1927.5 1115 1931.9 1105.9 1933.6 1099.9C1935.4 1093.9 1937.6 1082.8 1938.6 1075.3C1939.5 1067.7 1940 1054.1 1941 1043.3C1942 1032.4 1944.6 1005.5 1945.9 994C1947.3 982.5 1949.4 966.9 1950.9 957C1952.3 947.2 1955.1 928.1 1957 920.1C1959 912.1 1962.5 899.7 1965.7 896.7C1968.8 893.7 1977.1 902 1980.4 897.9C1983.7 893.8 1987.7 872.5 1990.3 865.9C1992.9 859.3 1997.5 851.6 2000.1 848.7C2002.8 845.7 2008 844.2 2010 843.7C2012 843.3 2012 847.6 2014.9 845C2017.9 842.3 2028.5 827.5 2032.2 824C2035.8 820.6 2039.4 819.6 2042 819.1C2044.6 818.6 2048.9 818.7 2051.9 820.3C2054.8 822 2060.9 824.7 2064.2 831.4C2067.5 838.2 2072.9 863.3 2076.5 870.8C2080.1 878.4 2088.6 883.2 2091.3 888.1C2093.9 893 2094.9 901.2 2096.2 907.8C2097.5 914.4 2099.8 934.1 2101.1 937.3C2102.4 940.6 2104.7 933.7 2106 932.4C2107.4 931.1 2109.3 926.5 2111 927.5C2112.6 928.5 2116.4 934.2 2118.4 939.8C2120.3 945.4 2123.4 963.8 2125.7 969.4C2128 974.9 2132.3 979.4 2135.6 981.7C2138.9 984 2147.4 982 2150.4 986.6C2153.3 991.2 2155.8 1015.5 2157.8 1016.2C2159.7 1016.8 2163.2 994.5 2165.2 991.5C2167.1 988.6 2170.6 993 2172.5 994C2174.5 995 2177.3 1000.6 2179.9 998.9C2182.6 997.3 2188.3 985.9 2192.3 981.7C2196.2 977.4 2206.2 967.6 2209.5 966.9C2212.8 966.2 2215.2 973.5 2216.9 976.7C2218.5 980 2220.8 990.9 2221.8 991.5C2222.8 992.2 2223.3 984 2224.3 981.7C2225.3 979.4 2228.2 977.6 2229.2 974.3C2230.2 971 2230.7 959.7 2231.7 957C2232.6 954.4 2235.9 954.9 2236.6 954.6 L2239.5 954.6 L2239.5 1460" fill="none" stroke="#d4a4ee" stroke-width="4.0" stroke-linejoin="round" stroke-linecap="butt"/>
<path d="M377.9 997C380.1 997.2 387.6 997.7 394.2 998.4C400.9 999.1 418.9 1001.3 427.9 1002.3C437 1003.4 452.4 1005.3 462.2 1006.3C472 1007.2 492.6 1009.2 501.7 1009.7C510.8 1010.2 522.9 1009.3 530.7 1010.2C538.4 1011.2 553 1014.5 559.6 1016.8C566.3 1019.1 573.7 1021.5 580.7 1027.3C587.7 1033.1 603.5 1050.6 612.3 1060.3C621.1 1069.9 638.5 1092 646.6 1099.8C654.6 1107.5 664.5 1113.3 672.9 1118.2C681.3 1123.1 701 1135.2 709.8 1136.6C718.5 1138 730.7 1134 738.7 1128.7C746.8 1123.5 761.6 1104.2 770.3 1097.1C779.1 1090.1 793 1081.3 804.6 1076.1C816.2 1070.8 846.7 1059.7 857.3 1057.6C867.8 1055.5 878.3 1058.9 883.6 1060.3C888.9 1061.7 892.2 1064.7 896.8 1068.2C901.3 1071.7 912.6 1083.4 917.8 1086.6C923.1 1089.8 929.3 1093.6 936.3 1091.9C943.3 1090.1 963.9 1078 970.5 1073.4C977.2 1068.9 981.4 1060.4 986.3 1057.6C991.3 1054.8 1001.1 1053.2 1007.4 1052.4C1013.7 1051.5 1026 1051 1033.7 1051C1041.5 1051 1057.6 1052.9 1065.4 1052.4C1073.1 1051.8 1084 1048.7 1091.7 1047.1C1099.4 1045.5 1116.3 1041.7 1123.3 1040.5C1130.3 1039.3 1137.3 1038.6 1144.4 1037.9C1151.4 1037.2 1169 1036.1 1176 1035.2C1183 1034.4 1190.7 1032.2 1197 1031.3C1203.4 1030.4 1218.3 1027.8 1223.4 1028.7C1228.5 1029.5 1232.4 1037.5 1235.2 1037.9C1238 1038.2 1242.2 1031.6 1244.5 1031.3C1246.7 1030.9 1248.1 1036.1 1252.4 1035.2C1256.6 1034.4 1268.7 1027.2 1276.1 1024.7C1283.4 1022.2 1302.8 1018.9 1307.7 1016.8C1312.6 1014.7 1311.5 1009.1 1312.9 1008.9C1314.3 1008.7 1316.8 1019.2 1318.2 1015.5C1319.6 1011.8 1322.1 982.6 1323.5 981.2C1324.9 979.8 1327 1002.1 1328.7 1004.9C1330.5 1007.8 1334.2 1000.7 1336.6 1002.3C1339.1 1003.9 1344.7 1015.6 1347.2 1016.8C1349.6 1018 1353 1011.5 1355.1 1011.5C1357.2 1011.5 1360.5 1016.6 1363 1016.8C1365.4 1017 1371.4 1012.5 1373.5 1012.9C1375.6 1013.2 1376.3 1021 1378.8 1019.4C1381.2 1017.9 1388.8 1004 1392 1001C1395.1 998 1400.4 996 1402.5 997C1404.6 998.1 1406 1007.1 1407.8 1008.9C1409.5 1010.7 1414.3 1012.7 1415.7 1010.2C1417.1 1007.8 1415.8 991.9 1418.3 990.5C1420.8 989.1 1429.5 997.8 1434.1 999.7C1438.7 1001.6 1446.9 1004.9 1452.5 1004.9C1458.2 1004.9 1469.6 1000.7 1476.2 999.7C1482.9 998.6 1496.3 996.9 1502.6 997C1508.9 997.2 1518.4 997.8 1523.6 1001C1528.9 1004.2 1538.3 1017.9 1542.1 1020.8C1545.9 1023.6 1549 1022.6 1552.3 1022.3C1555.6 1022 1562.8 1018.5 1567.1 1018.6C1571.4 1018.8 1580.9 1023.5 1584.3 1023.5C1587.8 1023.5 1590.7 1017.3 1593 1018.6C1595.3 1019.9 1598.8 1029.1 1601.6 1033.4C1604.4 1037.7 1611.3 1050 1613.9 1050.6C1616.5 1051.3 1619.3 1043.6 1621.3 1038.3C1623.3 1033.1 1625.7 1016.8 1628.7 1011.2C1631.6 1005.6 1640.5 997.4 1643.4 996.5C1646.4 995.5 1649.4 999.9 1650.8 1003.8C1652.3 1007.8 1653.2 1018.9 1654.5 1026C1655.8 1033.1 1658.9 1054.5 1660.7 1056.8C1662.5 1059.1 1666.3 1046.5 1668.1 1043.3C1669.9 1040 1672.9 1032.5 1674.2 1032.2C1675.6 1031.8 1676.8 1036 1677.9 1040.8C1679.1 1045.6 1681.4 1062 1682.9 1067.9C1684.3 1073.8 1687.4 1085.1 1689 1085.1C1690.7 1085.1 1693.9 1070.8 1695.2 1067.9C1696.5 1064.9 1697.9 1062 1698.9 1063C1699.9 1063.9 1701.6 1073 1702.6 1075.3C1703.5 1077.6 1704.9 1082.2 1706.3 1080.2C1707.6 1078.2 1710.4 1065.3 1712.4 1060.5C1714.4 1055.7 1719.1 1045.8 1721 1044.5C1723 1043.2 1725.7 1047.2 1727.2 1050.6C1728.7 1054.1 1730.1 1067.2 1732.1 1070.3C1734.1 1073.5 1739.3 1071.1 1742 1074C1744.6 1077 1749.4 1087.6 1751.8 1092.5C1754.3 1097.4 1758.5 1109.7 1760.4 1111C1762.4 1112.3 1764.8 1107.1 1766.6 1102.4C1768.4 1097.6 1771.9 1078.7 1774 1075.3C1776.1 1071.8 1780 1076.7 1782.6 1076.5C1785.2 1076.3 1791.2 1073.2 1793.7 1074C1796.2 1074.9 1799.1 1080.2 1801.1 1082.7C1803.1 1085.1 1806.5 1090.9 1808.5 1092.5C1810.4 1094.2 1813.9 1096 1815.9 1095C1817.8 1094 1821.6 1089.1 1823.3 1085.1C1824.9 1081.2 1826.7 1070 1828.2 1065.4C1829.7 1060.8 1832.9 1050 1834.3 1050.6C1835.8 1051.3 1838.1 1062.1 1839.3 1070.3C1840.4 1078.6 1841.8 1107 1843 1112.2C1844.1 1117.5 1846.6 1112.1 1847.9 1109.8C1849.2 1107.5 1851.5 1095.3 1852.8 1095C1854.1 1094.6 1856.7 1102.7 1857.7 1107.3C1858.7 1111.9 1857.2 1116.8 1860.2 1129.5C1863.2 1142.2 1876.4 1193.1 1880 1202.5C1883.6 1211.9 1885.3 1196.9 1886.8 1200.2C1888.4 1203.6 1890.5 1221.2 1891.4 1227.6C1892.3 1233.9 1893.1 1239.9 1893.7 1248.1C1894.3 1256.3 1894.7 1282.7 1895.9 1289.1C1897.2 1295.4 1900.7 1291 1902.8 1295.9C1904.9 1300.8 1909.8 1323.4 1911.9 1325.5C1914 1327.6 1916.9 1316.7 1918.7 1311.8C1920.5 1307 1923.7 1295.4 1925.6 1289.1C1927.4 1282.7 1930.6 1273.1 1932.4 1264C1934.2 1254.9 1937.7 1232 1939.2 1220.7C1940.7 1209.5 1942.6 1189.7 1943.8 1179.7C1945 1169.7 1947.1 1154.4 1948.3 1145.6C1949.6 1136.8 1951.6 1121.4 1952.9 1113.7C1954.2 1105.9 1956.2 1093.4 1958.3 1087.6C1960.3 1081.8 1965.2 1072.3 1968.1 1070.3C1971.1 1068.4 1977.1 1077.4 1980.4 1072.8C1983.7 1068.2 1989.8 1041.9 1992.7 1035.9C1995.7 1029.8 2000 1028.7 2002.6 1027.2C2005.2 1025.8 2009.8 1026.3 2012.4 1024.8C2015.1 1023.3 2018.7 1019.4 2022.3 1016.2C2025.9 1012.9 2035.6 1001.8 2039.5 1000.1C2043.5 998.5 2048.6 1001.7 2051.9 1003.8C2055.1 1006 2060.9 1010.2 2064.2 1016.2C2067.5 1022.1 2072.9 1041.3 2076.5 1048.2C2080.1 1055.1 2088.6 1062.3 2091.3 1067.9C2093.9 1073.5 2094.6 1084.1 2096.2 1090C2097.8 1096 2101.6 1110.6 2103.6 1112.2C2105.6 1113.9 2109 1102.4 2111 1102.4C2112.9 1102.4 2116.4 1107.6 2118.4 1112.2C2120.3 1116.8 2123.4 1131.9 2125.7 1136.8C2128 1141.8 2132.8 1147.1 2135.6 1149.2C2138.4 1151.2 2144.1 1150.4 2146.5 1152.4C2148.9 1154.3 2152 1159.5 2153.3 1163.8C2154.7 1168 2155.6 1184 2156.8 1184.3C2158 1184.6 2160.8 1169.1 2162.5 1166.1C2164.1 1163 2167.2 1161.5 2169.3 1161.5C2171.4 1161.5 2176 1167.3 2178.4 1166.1C2180.8 1164.8 2184.8 1156 2187.5 1152.4C2190.3 1148.7 2196.5 1141.2 2198.9 1138.7C2201.3 1136.3 2203.6 1133.9 2205.7 1134.2C2207.9 1134.5 2213 1138.9 2214.9 1141C2216.7 1143.1 2217.9 1149.8 2219.4 1150.1C2220.9 1150.4 2224.4 1146.3 2226.2 1143.3C2228.1 1140.2 2231.9 1130.1 2233.1 1127.3C2234.3 1124.6 2234.6 1123.7 2235.4 1122.8C2236.1 1121.9 2238.3 1120.8 2238.8 1120.5 L2239.5 1120.5 L2239.5 1460" fill="none" stroke="#e6b450" stroke-width="4.0" stroke-linejoin="round" stroke-linecap="butt"/>
<path d="M377.9 1171.1C381.1 1171.1 397.4 1170.6 401.6 1171.1C405.8 1171.6 405.3 1174.7 409.5 1175.1C413.7 1175.4 429 1173.4 433.2 1173.7C437.4 1174.1 434.8 1177.2 441.1 1177.7C447.4 1178.2 474.7 1177.2 480.6 1177.7C486.6 1178.2 479.9 1180.7 485.9 1181.1C491.9 1181.6 517 1180.4 525.4 1181.1C533.8 1181.9 541.7 1184.4 549.1 1186.9C556.5 1189.4 573.7 1195.9 580.7 1200.1C587.7 1204.3 594.8 1212.9 601.8 1218.5C608.8 1224.1 625.7 1236.8 633.4 1242.2C641.1 1247.7 652.7 1255.7 659.7 1259.3C666.7 1263 679 1268.1 686.1 1269.9C693.1 1271.6 704.7 1273.4 712.4 1272.5C720.1 1271.6 736.3 1266.5 744 1263.3C751.7 1260.1 762.3 1253 770.3 1248.8C778.4 1244.6 794.8 1235.4 804.6 1231.7C814.4 1228 835.3 1222.9 844.1 1221.2C852.9 1219.4 864.1 1218.3 870.4 1218.5C876.8 1218.7 886.6 1220.4 891.5 1222.5C896.4 1224.6 902 1231.5 907.3 1234.3C912.6 1237.1 925.4 1242.8 931 1243.5C936.6 1244.2 944.5 1241.2 949.5 1239.6C954.4 1238 963.7 1234.2 967.9 1231.7C972.1 1229.2 978.3 1222.9 981.1 1221.2C983.9 1219.4 985.5 1218.9 989 1218.5C992.5 1218.2 1004.2 1219.1 1007.4 1218.5C1010.6 1218 1007.8 1215.1 1012.7 1214.6C1017.6 1214 1039 1214.9 1044.3 1214.6C1049.6 1214.2 1050.1 1211.8 1052.2 1211.9C1054.3 1212.1 1056.9 1215.4 1060.1 1215.9C1063.2 1216.4 1072.7 1216.4 1075.9 1215.9C1079.1 1215.4 1078.2 1213.3 1083.8 1211.9C1089.4 1210.5 1109.3 1206.4 1118 1205.4C1126.8 1204.3 1144.7 1204.6 1149.6 1204C1154.6 1203.5 1150.3 1201.8 1154.9 1201.4C1159.5 1201.1 1179 1201.8 1183.9 1201.4C1188.8 1201.1 1185.5 1199.1 1191.8 1198.8C1198.1 1198.4 1225.3 1197.9 1231.3 1198.8C1237.3 1199.6 1234.8 1205.4 1236.6 1205.4C1238.3 1205.4 1242 1199.1 1244.5 1198.8C1246.9 1198.4 1251.1 1203.4 1255 1202.7C1258.9 1202 1268.5 1195.3 1273.4 1193.5C1278.3 1191.7 1288 1189.7 1291.9 1189.6C1295.7 1189.4 1299.6 1192.9 1302.4 1192.2C1305.2 1191.5 1310.7 1184.3 1312.9 1184.3C1315.2 1184.3 1318.5 1194.3 1319.5 1192.2C1320.6 1190.1 1320.3 1173.2 1320.8 1168.5C1321.4 1163.7 1322.8 1155.6 1323.5 1156.6C1324.2 1157.7 1324.7 1173.9 1326.1 1176.4C1327.5 1178.8 1332.3 1174.4 1334 1175.1C1335.8 1175.8 1337.5 1179.9 1339.3 1181.6C1341 1183.4 1345.1 1187.9 1347.2 1188.2C1349.3 1188.6 1352.6 1184.5 1355.1 1184.3C1357.5 1184.1 1362.8 1187.3 1365.6 1186.9C1368.4 1186.6 1373.3 1183.1 1376.2 1181.6C1379 1180.2 1384.2 1178.1 1386.7 1176.4C1389.1 1174.6 1392.5 1168.7 1394.6 1168.5C1396.7 1168.3 1400.7 1174 1402.5 1175.1C1404.2 1176.1 1406 1174.5 1407.8 1176.4C1409.5 1178.3 1413.9 1189.6 1415.7 1189.6C1417.4 1189.6 1419.2 1178.8 1420.9 1176.4C1422.7 1173.9 1427.1 1171.3 1428.8 1171.1C1430.6 1170.9 1431.6 1174.5 1434.1 1175.1C1436.6 1175.6 1441.6 1175.1 1447.3 1175.1C1452.9 1175.1 1471 1175.6 1476.2 1175.1C1481.5 1174.5 1481.9 1171.6 1486.8 1171.1C1491.7 1170.6 1508.2 1170.4 1513.1 1171.1C1518 1171.8 1521.2 1172.5 1523.6 1176.4C1526.1 1180.2 1529.1 1194.8 1531.5 1200.1C1534 1205.4 1539.6 1215.2 1542.1 1215.9C1544.5 1216.6 1548.1 1208.1 1550 1205.4C1551.8 1202.7 1553.9 1198.2 1555.9 1195.7C1558 1193.2 1563.2 1187.8 1565.1 1186.6C1566.9 1185.3 1568.1 1185.6 1569.6 1186.6C1571.1 1187.5 1574.6 1191.7 1576.4 1193.4C1578.3 1195.1 1579.9 1198.3 1583.3 1199.1C1586.6 1199.8 1598.2 1198.3 1601.5 1199.1C1604.8 1199.8 1606.2 1201.9 1608.3 1204.8C1610.5 1207.7 1615.5 1220.7 1617.4 1220.7C1619.4 1220.7 1621.9 1208.7 1623.1 1204.8C1624.4 1200.8 1625.2 1194.8 1626.6 1191.1C1627.9 1187.5 1631.6 1179.7 1633.4 1177.4C1635.2 1175.2 1638.1 1174.5 1640.2 1174C1642.4 1173.6 1647.5 1173.4 1649.3 1174C1651.2 1174.6 1652.7 1175.7 1653.9 1178.6C1655.1 1181.5 1657.2 1191.1 1658.5 1195.7C1659.7 1200.2 1661.8 1211.2 1663 1212.8C1664.2 1214.3 1666.5 1209.3 1667.6 1207.1C1668.6 1204.8 1669.9 1197.9 1671 1195.7C1672 1193.4 1674.5 1190 1675.5 1190C1676.6 1190 1678 1192.5 1679 1195.7C1679.9 1198.9 1681.2 1209.3 1682.4 1213.9C1683.6 1218.5 1686.1 1229.2 1688.1 1229.8C1690 1230.4 1695.4 1219.7 1697.2 1218.5C1699 1217.2 1700.5 1218.6 1701.7 1220.7C1702.9 1222.9 1704.8 1234.1 1706.3 1234.4C1707.8 1234.7 1711.3 1226.3 1713.1 1223C1714.9 1219.7 1718.4 1210.9 1720 1209.3C1721.5 1207.8 1723.3 1209.5 1724.5 1211.6C1725.7 1213.7 1727.7 1222.2 1729.1 1225.3C1730.4 1228.3 1733.2 1234.1 1734.8 1234.4C1736.3 1234.7 1739.1 1228.9 1740.5 1227.6C1741.8 1226.2 1743.6 1223.7 1745 1224.1C1746.4 1224.6 1749.2 1228.9 1750.7 1231C1752.2 1233.1 1754.7 1240.5 1756.4 1240.1C1758.1 1239.6 1760.8 1231.7 1763.2 1227.6C1765.7 1223.5 1772.2 1210.6 1774.6 1209.3C1777.1 1208.1 1779.3 1214.8 1781.5 1218.5C1783.6 1222.1 1788.1 1231.8 1790.6 1236.7C1793 1241.5 1797.7 1250.3 1799.7 1254.9C1801.7 1259.5 1803.6 1270.8 1805.4 1270.8C1807.2 1270.8 1811.1 1261.6 1813.3 1254.9C1815.6 1248.2 1820.2 1227.3 1822.5 1220.7C1824.7 1214.2 1828.6 1207.1 1830.4 1205.9C1832.3 1204.7 1834.8 1208.7 1836.1 1211.6C1837.5 1214.5 1839.5 1222.7 1840.7 1227.6C1841.9 1232.4 1844 1244.4 1845.2 1248.1C1846.5 1251.7 1848.7 1254.6 1849.8 1254.9C1850.9 1255.2 1852.3 1249.7 1853.2 1250.3C1854.1 1250.9 1855.7 1254 1856.6 1259.5C1857.5 1264.9 1859.1 1284.7 1860 1291.3C1861 1298 1862.4 1305.3 1863.5 1309.6C1864.5 1313.8 1866.8 1320.2 1868 1323.2C1869.2 1326.3 1870.8 1331 1872.6 1332.3C1874.4 1333.7 1879.7 1332.3 1881.7 1333.5C1883.7 1334.7 1886 1337.7 1887.4 1341.5C1888.7 1345.3 1890.6 1356.2 1891.9 1362C1893.3 1367.7 1896 1378.1 1897.6 1384.7C1899.3 1391.4 1902.9 1406 1904.5 1412.1C1906 1418.1 1907.8 1426.3 1909 1430.3C1910.2 1434.2 1912.6 1441.1 1913.6 1441.7C1914.6 1442.3 1914.8 1439.1 1916.4 1434.9C1918 1430.6 1923.1 1417.4 1925.6 1409.8C1928 1402.2 1932.5 1386.4 1934.7 1377.9C1936.8 1369.4 1940 1355.7 1941.5 1346C1943 1336.3 1944.8 1314.1 1946.1 1305C1947.3 1295.9 1949.4 1284.7 1950.6 1277.7C1951.8 1270.7 1953.7 1258.4 1955.2 1252.6C1956.7 1246.8 1959.6 1238.3 1962 1234.4C1964.4 1230.4 1971 1223.9 1973.4 1223C1975.8 1222.1 1978.4 1228.5 1980.2 1227.6C1982.1 1226.7 1984.3 1220.6 1987.1 1216.2C1989.8 1211.8 1997.4 1197.6 2000.7 1194.5C2004.1 1191.5 2009.4 1194.5 2012.1 1193.4C2014.9 1192.3 2017.9 1189.1 2021.2 1186.6C2024.6 1184 2033.5 1175.4 2037.2 1174C2040.8 1172.7 2045.5 1174.9 2048.6 1176.3C2051.6 1177.7 2057.2 1182.3 2060 1184.3C2062.7 1186.3 2066.6 1188.1 2069.1 1191.1C2071.5 1194.2 2075.4 1203.7 2078.2 1207.1C2080.9 1210.4 2087.1 1212.2 2089.6 1216.2C2092 1220.1 2094.6 1231.8 2096.4 1236.7C2098.2 1241.5 2101.4 1250.8 2103.2 1252.6C2105.1 1254.4 2107.9 1249.7 2110.1 1250.3C2112.2 1250.9 2116.8 1253.2 2119.2 1257.2C2121.6 1261.1 2125.9 1276 2128.3 1280C2130.7 1283.9 2134.4 1285.6 2137.4 1286.8C2140.4 1288 2148.3 1286.5 2151.1 1289.1C2153.8 1291.6 2156.1 1305.2 2157.9 1306.2C2159.7 1307.1 2162.6 1297.1 2164.7 1295.9C2166.9 1294.7 2170.8 1298.3 2173.8 1297C2176.9 1295.8 2183.6 1289.1 2187.5 1286.8C2191.5 1284.5 2200.4 1280.6 2203.5 1280C2206.5 1279.3 2208.5 1281 2210.3 1282.2C2212.1 1283.4 2214.7 1287.2 2217.1 1289.1C2219.6 1290.9 2226.8 1296.8 2228.5 1295.9C2230.2 1295 2229.1 1285.3 2229.7 1282.2C2230.3 1279.2 2232 1274.9 2233.1 1273.1C2234.1 1271.3 2237 1269.2 2237.6 1268.6 L2239.5 1268.6 L2239.5 1460" fill="none" stroke="#00dcdc" stroke-width="4.0" stroke-linejoin="round" stroke-linecap="butt"/>
<line x1="2236.5" y1="99.5" x2="2236.5" y2="1460" stroke="#111" stroke-width="3.6"/>
<line x1="375" y1="1460" x2="2256" y2="1460" stroke="#000" stroke-width="5.5"/>
<line x1="57" y1="61.3" x2="218.5" y2="61.3" stroke="#10d8d8" stroke-width="4.5"/>
<line x1="57" y1="146.5" x2="218.5" y2="146.5" stroke="#e8b855" stroke-width="4.5"/>
<line x1="57" y1="235.3" x2="218.5" y2="235.3" stroke="#dcb0f2" stroke-width="4.5"/>
<line x1="57" y1="320.7" x2="218.5" y2="320.7" stroke="#55c89c" stroke-width="4.5"/>
<line x1="57" y1="409.2" x2="218.5" y2="409.2" stroke="#6aaaf0" stroke-width="4.5"/>
<line x1="57" y1="494.4" x2="218.5" y2="494.4" stroke="#ff8a8a" stroke-width="4.5"/>
<line x1="57" y1="583" x2="218.5" y2="583" stroke="#a0a0a0" stroke-width="4.5"/>
<line x1="704.5" y1="1294.0" x2="704.5" y2="1357" stroke="#a2a2a2" stroke-width="3.1"/>
<path d="M704.5 1276.5 L714.5 1295.0 L694.5 1295.0 Z" fill="#000"/>
<line x1="930.4" y1="1274.2" x2="930.4" y2="1337" stroke="#a2a2a2" stroke-width="3.1"/>
<path d="M930.4 1256.7 L940.4 1275.2 L920.4 1275.2 Z" fill="#000"/>
<line x1="1535.5" y1="1251.8" x2="1535.5" y2="1316" stroke="#a2a2a2" stroke-width="3.1"/>
<path d="M1535.5 1234.3 L1545.5 1252.8 L1525.5 1252.8 Z" fill="#000"/>
<line x1="1617.4" y1="1253.0" x2="1617.4" y2="1308.5" stroke="#a2a2a2" stroke-width="3.1"/>
<path d="M1617.4 1235.5 L1627.4 1254.0 L1607.4 1254.0 Z" fill="#000"/>
<line x1="1664.1" y1="1246.2" x2="1664.1" y2="1309.6" stroke="#a2a2a2" stroke-width="3.1"/>
<path d="M1664.1 1228.7 L1674.1 1247.2 L1654.1 1247.2 Z" fill="#000"/>
<line x1="1707.4" y1="1261.0" x2="1707.4" y2="1318.7" stroke="#a2a2a2" stroke-width="3.1"/>
<path d="M1707.4 1243.5 L1717.4 1262.0 L1697.4 1262.0 Z" fill="#000"/>
<line x1="1727.9" y1="1265.6" x2="1727.9" y2="1389.3" stroke="#a2a2a2" stroke-width="3.1"/>
<path d="M1727.9 1248.1 L1737.9 1266.6 L1717.9 1266.6 Z" fill="#000"/>
<line x1="1756.4" y1="1257.6" x2="1756.4" y2="1319.8" stroke="#a2a2a2" stroke-width="3.1"/>
<path d="M1756.4 1240.1 L1766.4 1258.6 L1746.4 1258.6 Z" fill="#000"/>
<line x1="1805.4" y1="1292.9" x2="1805.4" y2="1352.8" stroke="#a2a2a2" stroke-width="3.1"/>
<path d="M1805.4 1275.4 L1815.4 1293.9 L1795.4 1293.9 Z" fill="#000"/>
<line x1="1839.5" y1="1274.7" x2="1839.5" y2="1336.9" stroke="#a2a2a2" stroke-width="3.1"/>
<path d="M1839.5 1257.2 L1849.5 1275.7 L1829.5 1275.7 Z" fill="#000"/>
<line x1="1865.7" y1="1347.5" x2="1865.7" y2="1409.8" stroke="#a2a2a2" stroke-width="3.1"/>
<path d="M1865.7 1330 L1875.7 1348.5 L1855.7 1348.5 Z" fill="#000"/>
<line x1="1985.9" y1="1240.5" x2="1985.9" y2="1301.6" stroke="#a2a2a2" stroke-width="3.1"/>
<path d="M1985.9 1223 L1995.9 1241.5 L1975.9 1241.5 Z" fill="#000"/>
<line x1="1783" y1="1097" x2="1783" y2="1160" stroke="#a2a2a2" stroke-width="3.1"/>
<path d="M1782.6 1080.2 L1792 1098 L1773.2 1098 Z" fill="#000"/>
<line x1="1988.2" y1="1392.7" x2="1932" y2="1426" stroke="#6a6a6a" stroke-width="2.4"/>
<path d="M1917.6 1433.7 L1928.5 1418.4 L1937.5 1433.5 Z" fill="#000"/>
<text x="234.7" y="81.9" font-family='"Liberation Sans", Arial, sans-serif' font-size="72.5" fill="#141414" textLength="391.26" lengthAdjust="spacingAndGlyphs">raw material</text>
<text x="236.4" y="169.2" font-family='"Liberation Sans", Arial, sans-serif' font-size="72.5" fill="#141414" textLength="152.07" lengthAdjust="spacingAndGlyphs">OAP</text>
<text x="235.9" y="256.1" font-family='"Liberation Sans", Arial, sans-serif' font-size="72.5" fill="#141414" textLength="159.01" lengthAdjust="spacingAndGlyphs">MAP</text>
<text x="235.8" y="344.0" font-family='"Liberation Sans", Arial, sans-serif' font-size="72.5" fill="#141414" textLength="149.91" lengthAdjust="spacingAndGlyphs">CAP</text>
<text x="236.3" y="428.8" font-family='"Liberation Sans", Arial, sans-serif' font-size="72.5" fill="#141414" textLength="145.49" lengthAdjust="spacingAndGlyphs">AAP</text>
<text x="236.8" y="517.0" font-family='"Liberation Sans", Arial, sans-serif' font-size="72.5" fill="#141414" textLength="144.97" lengthAdjust="spacingAndGlyphs">SAP</text>
<text x="236.3" y="602.7" font-family='"Liberation Sans", Arial, sans-serif' font-size="72.5" fill="#141414" textLength="100.83" lengthAdjust="spacingAndGlyphs">HP</text>
<text x="556.6" y="1504.6" font-family='"Liberation Sans", Arial, sans-serif' font-size="61.5" fill="#141414" textLength="128.91" lengthAdjust="spacingAndGlyphs" stroke="#141414" stroke-width="0.9">3500</text>
<text x="815.4" y="1504.6" font-family='"Liberation Sans", Arial, sans-serif' font-size="61.5" fill="#141414" textLength="132.92" lengthAdjust="spacingAndGlyphs" stroke="#141414" stroke-width="0.9">3000</text>
<text x="1076.6" y="1505.0" font-family='"Liberation Sans", Arial, sans-serif' font-size="61.5" fill="#141414" textLength="131.17" lengthAdjust="spacingAndGlyphs" stroke="#141414" stroke-width="0.9">2500</text>
<text x="1335.5" y="1505.0" font-family='"Liberation Sans", Arial, sans-serif' font-size="61.5" fill="#141414" textLength="133.12" lengthAdjust="spacingAndGlyphs" stroke="#141414" stroke-width="0.9">2000</text>
<text x="1602.9" y="1504.7" font-family='"Liberation Sans", Arial, sans-serif' font-size="61.5" fill="#141414" textLength="125.65" lengthAdjust="spacingAndGlyphs" stroke="#141414" stroke-width="0.9">1500</text>
<text x="1861.2" y="1504.7" font-family='"Liberation Sans", Arial, sans-serif' font-size="61.5" fill="#141414" textLength="130.14" lengthAdjust="spacingAndGlyphs" stroke="#141414" stroke-width="0.9">1000</text>
<text x="2137.0" y="1504.7" font-family='"Liberation Sans", Arial, sans-serif' font-size="61.5" fill="#141414" textLength="96.09" lengthAdjust="spacingAndGlyphs" stroke="#141414" stroke-width="0.9">500</text>
<text x="1002.4" y="1612.0" font-family='"Liberation Sans", Arial, sans-serif' font-size="70.5" fill="#141414" textLength="427.36" lengthAdjust="spacingAndGlyphs">Wavenumber</text>
<text x="1445.6" y="1608.7" font-family='"Liberation Sans", Arial, sans-serif' font-size="70.5" fill="#141414" textLength="119.59" lengthAdjust="spacingAndGlyphs">(cm</text>
<text x="1564.5" y="1581.2" font-family='"Liberation Sans", Arial, sans-serif' font-size="42.5" fill="#141414" textLength="14.75" lengthAdjust="spacingAndGlyphs">-</text>
<text x="1583.3" y="1579.2" font-family='"Liberation Sans", Arial, sans-serif' font-size="42.5" fill="#141414" textLength="16.19" lengthAdjust="spacingAndGlyphs">1</text>
<text x="1605.5" y="1608.7" font-family='"Liberation Sans", Arial, sans-serif' font-size="70.5" fill="#141414" textLength="21.88" lengthAdjust="spacingAndGlyphs">)</text>
<text x="664.0" y="1386.0" font-family='"Liberation Sans", Arial, sans-serif' font-size="35.8" fill="#6c6c6c" textLength="77.9" lengthAdjust="spacingAndGlyphs">3350</text>
<text x="890.5" y="1362.4" font-family='"Liberation Sans", Arial, sans-serif' font-size="35.8" fill="#6c6c6c" textLength="76.58" lengthAdjust="spacingAndGlyphs">2898</text>
<text x="1500.5" y="1352.0" font-family='"Liberation Sans", Arial, sans-serif' font-size="35.8" fill="#6c6c6c" textLength="76.43" lengthAdjust="spacingAndGlyphs">1735</text>
<text x="1582.4" y="1334.8" font-family='"Liberation Sans", Arial, sans-serif' font-size="35.8" fill="#6c6c6c" textLength="76.54" lengthAdjust="spacingAndGlyphs">1594</text>
<text x="1625.7" y="1364.4" font-family='"Liberation Sans", Arial, sans-serif' font-size="35.8" fill="#6c6c6c" textLength="77.78" lengthAdjust="spacingAndGlyphs">1504</text>
<text x="1672.4" y="1340.5" font-family='"Liberation Sans", Arial, sans-serif' font-size="35.8" fill="#6c6c6c" textLength="74.26" lengthAdjust="spacingAndGlyphs">1421</text>
<text x="1691.8" y="1443.0" font-family='"Liberation Sans", Arial, sans-serif' font-size="35.8" fill="#6c6c6c" textLength="76.54" lengthAdjust="spacingAndGlyphs">1370</text>
<text x="1718.0" y="1372.4" font-family='"Liberation Sans", Arial, sans-serif' font-size="35.8" fill="#6c6c6c" textLength="75.3" lengthAdjust="spacingAndGlyphs">1319</text>
<text x="1768.0" y="1403.1" font-family='"Liberation Sans", Arial, sans-serif' font-size="35.8" fill="#6c6c6c" textLength="76.54" lengthAdjust="spacingAndGlyphs">1229</text>
<text x="1804.5" y="1370.0" font-family='"Liberation Sans", Arial, sans-serif' font-size="35.8" fill="#6c6c6c" textLength="78.23" lengthAdjust="spacingAndGlyphs">1105</text>
<text x="1826.2" y="1452.1" font-family='"Liberation Sans", Arial, sans-serif' font-size="35.8" fill="#6c6c6c" textLength="76.54" lengthAdjust="spacingAndGlyphs">1056</text>
<text x="1957.6" y="1342.7" font-family='"Liberation Sans", Arial, sans-serif' font-size="35.8" fill="#6c6c6c" textLength="59.84" lengthAdjust="spacingAndGlyphs">892</text>
<text x="1746.4" y="1207.2" font-family='"Liberation Sans", Arial, sans-serif' font-size="35.8" fill="#6c6c6c" textLength="77.78" lengthAdjust="spacingAndGlyphs">1273</text>
<text x="1997.6" y="1403.1" font-family='"Liberation Sans", Arial, sans-serif' font-size="35.8" fill="#6c6c6c" textLength="78.92" lengthAdjust="spacingAndGlyphs">1026</text>
</svg>
</body></html>
